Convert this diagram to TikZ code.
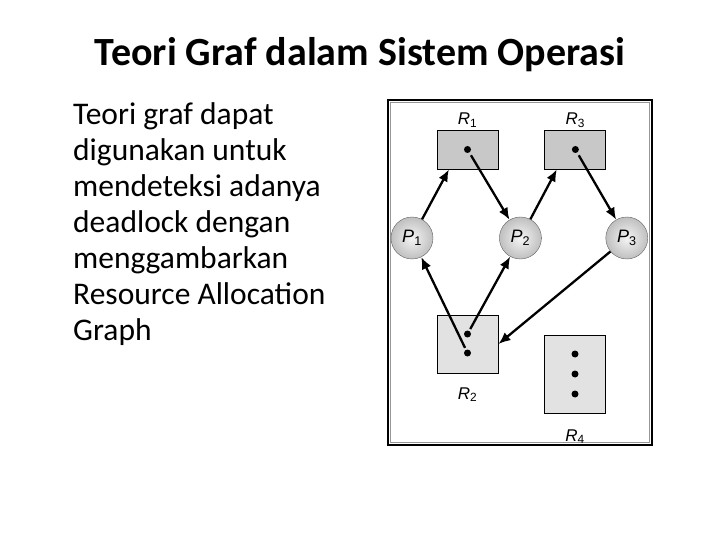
\documentclass[tikz,border=0pt]{standalone}
\usepackage{fontspec}
\setmainfont{Carlito}
\newfontfamily\labelfont{Liberation Sans}
\usepackage{tikz}
\usetikzlibrary{arrows.meta, positioning}
\definecolor{resDark}{RGB}{200, 200, 200}
\definecolor{resLight}{RGB}{226, 226, 226}
\definecolor{frameGray}{RGB}{150, 150, 150}

\begin{document}
\begin{tikzpicture}[
        x=1pt, y=-1pt,
        res/.style={rectangle, draw=black, line width=0.9pt, fill=resDark, minimum width=61pt, minimum height=39pt, inner sep=0pt},
        reslight/.style={res, fill=resLight},
        proc/.style={circle, draw=gray!75!black, shading=radial, inner color=gray!8, outer color=gray!50, minimum size=42pt, inner sep=0pt, font=\labelfont\fontsize{18}{18}\selectfont},
        rdot/.style={circle, fill=black, minimum size=7pt, inner sep=0pt},
        lbl/.style={font=\labelfont\fontsize{17}{17}\selectfont, inner sep=1pt},
        line/.style={draw=black, -{Latex[length=12pt, width=10pt]}, line width=2.3pt}
    ]
    \useasboundingbox (0,0) rectangle (720,540);

    % Text
    \node (title) [anchor=base, font=\bfseries\fontsize{40}{44}\selectfont] at (360,66) {Teori Graf dalam Sistem Operasi};
    \node (desc) [anchor=base west, align=left, inner sep=0pt, font=\fontsize{31.5}{36}\selectfont] at (73,340) {Teori graf dapat\\digunakan untuk\\mendeteksi adanya\\deadlock dengan\\menggambarkan\\Resource Allocation\\Graph};

    % Frame
    \draw [line width=1.2pt] (388,100) rectangle (652,445);
    \draw [frameGray, line width=1pt] (390.5,102.5) rectangle (649.5,442.5);

    % Nodes
    \node (r1) [res] at (467.5,149.5) {};
    \node (r3) [res, right=46pt of r1] {};
    \node (p1) [proc] at (412,238) {\textit{P}\textsubscript{1}};
    \node (p2) [proc, right=66pt of p1] {\textit{P}\textsubscript{2}};
    \node (p3) [proc, right=64pt of p2] {\textit{P}\textsubscript{3}};
    \node (r2) [reslight, minimum height=58pt] at (467.5,344) {};
    \node (r4) [reslight, minimum height=78pt] at (575,374) {};

    \node (d1) [rdot] at (r1) {};
    \node (d3) [rdot] at (r3) {};
    \node (d2a) [rdot, yshift=10pt] at (r2) {};
    \node (d2b) [rdot, yshift=-9pt] at (r2) {};
    \node (d4a) [rdot, yshift=20pt] at (r4) {};
    \node (d4b) [rdot] at (r4) {};
    \node (d4c) [rdot, yshift=-20pt] at (r4) {};

    \node (l1) [lbl, above=1pt of r1] {\textit{R}\textsubscript{1}};
    \node (l3) [lbl, above=1pt of r3] {\textit{R}\textsubscript{3}};
    \node (l2) [lbl, below=13pt of r2] {\textit{R}\textsubscript{2}};
    \node (l4) [lbl, below=15pt of r4] {\textit{R}\textsubscript{4}};

    % Connectors
    \path [line] (p1) -- (r1.-133);
    \path [line, shorten <=3pt] (d1) -- (p2);
    \path [line] (p2) -- (r3.-133);
    \path [line, shorten <=3pt] (d3) -- (p3);
    \path [line] (p3) -- (r2.east);
    \path [line, shorten <=2pt] (d2b) -- (p1);
    \path [line, shorten <=2pt] (d2a) -- (p2);
\end{tikzpicture}
\end{document}
